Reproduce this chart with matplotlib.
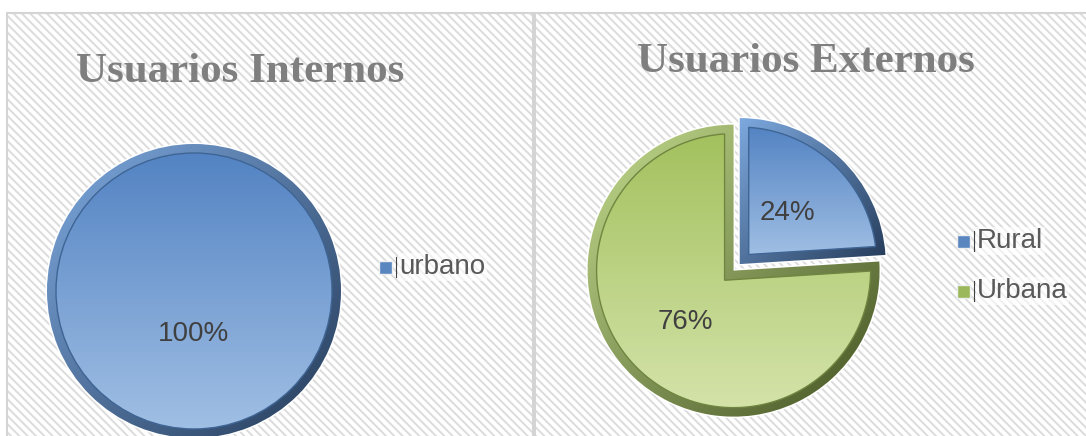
import numpy as np
import matplotlib
matplotlib.use("Agg")
import matplotlib.pyplot as plt
from matplotlib.patches import Rectangle, Polygon, Circle
from matplotlib.colors import LinearSegmentedColormap

# data
interno_labels = ['urbano']
interno_vals = [100]
externo_labels = ['Rural', 'Urbana']
externo_vals = [24, 76]

plt.rcParams['hatch.linewidth'] = 1.4

W, H = 1086, 436
fig = plt.figure(figsize=(W / 100, H / 100), dpi=100)
ax = fig.add_axes([0, 0, 1, 1])

# hatched panels (pixel coords, y up)
for x0, w in [(7, 526), (535, 560)]:
    ax.add_patch(Rectangle((x0, -10), w, 433, facecolor='white', edgecolor='#dcdcdc',
                           hatch='\\\\\\\\', lw=0, zorder=0))
    ax.add_patch(Rectangle((x0, -10), w, 433, fill=False, edgecolor='#d4d4d4', lw=1.5, zorder=0.5))


def grad_fill(patch, c_top, c_bot, z, diag=False):
    cmap = LinearSegmentedColormap.from_list('g', [c_top, c_bot])
    bb = patch.get_path().get_extents(patch.get_patch_transform())
    if diag:
        yy, xx = np.mgrid[0:1:100j, 0:1:100j]
        g = (xx + yy) / 2
    else:
        g = np.linspace(0, 1, 100)[:, None] * np.ones((1, 2))
    im = ax.imshow(g, extent=[bb.x0 - 2, bb.x1 + 2, bb.y0 - 2, bb.y1 + 2], origin='upper',
                   cmap=cmap, aspect='auto', zorder=z, interpolation='bilinear')
    im.set_clip_path(patch)


def inset_face(w, d):
    cx, cy = w.center
    R = w.r - d
    span = w.theta2 - w.theta1
    if span >= 359.9:
        return Circle((cx, cy), R)
    half = np.radians(span / 2)
    mid = np.radians(w.theta1 + span / 2)
    s = d / np.sin(half)
    apex = (cx + s * np.cos(mid), cy + s * np.sin(mid))
    a = np.degrees(np.arcsin(d / R))
    t = np.radians(np.linspace(w.theta1 + a, w.theta2 - a, 200))
    pts = [apex] + list(zip(cx + R * np.cos(t), cy + R * np.sin(t)))
    return Polygon(pts, closed=True)


def bevel_pie(vals, center, r, explode, ring_cols, fill_cols, pctdist, d=9):
    outer, _, pcts = ax.pie(vals, center=center, radius=r, startangle=90, counterclock=False,
                            explode=explode, autopct='%1.0f%%', pctdistance=pctdist,
                            wedgeprops=dict(edgecolor='white', lw=2.2, zorder=1),
                            textprops=dict(fontsize=20, color='#404040', family='Liberation Sans',
                                           zorder=10), frame=True)
    for w, rc, fc in zip(outer, ring_cols, fill_cols):
        grad_fill(w, rc[0], rc[1], 2, diag=True)
        face = inset_face(w, d)
        face.set(facecolor='none', edgecolor=fc[2], lw=1.0, zorder=5)
        ax.add_patch(face)
        grad_fill(face, fc[0], fc[1], 4)
    return pcts


blue_ring = ('#7eaae0', '#243a58')
blue_fill = ('#5383c3', '#a0bfe4', '#3f6594')
green_ring = ('#c4dc8e', '#435222')
green_fill = ('#a3c15e', '#d4e3a9', '#6f8540')

bevel_pie(interno_vals, (194, 145), 147, [0], [blue_ring], [blue_fill], 0.29)
bevel_pie(externo_vals, (737, 169), 146, [4, 5], [blue_ring, green_ring],
          [blue_fill, green_fill], 0.48)

# titles
ax.text(240, H - 72, 'Usuarios Internos', ha='center', va='center', fontsize=31,
        fontweight='bold', family='Liberation Serif', color='#7f7f7f', zorder=10)
ax.text(806, H - 62, 'Usuarios Externos', ha='center', va='center', fontsize=31,
        fontweight='bold', family='Liberation Serif', color='#7f7f7f', zorder=10)


# legends
def legend(labels, cols, x, ys):
    for lab, c, y in zip(labels, cols, ys):
        ax.add_patch(Rectangle((x, H - y - 7), 13, 13, facecolor=c, edgecolor='#eeeeee',
                               lw=1.0, zorder=10))
        ax.plot([x + 17, x + 17], [H - y - 10, H - y + 10], color='#404040', lw=0.8, zorder=10)
        ax.text(x + 20, H - y, lab, ha='left', va='center', fontsize=20, color='#595959',
                family='Liberation Sans', zorder=10,
                bbox=dict(facecolor='white', edgecolor='none', alpha=0.6, pad=1))


legend(interno_labels, ['#5a86c0'], 379, [267])
legend(externo_labels, ['#5a86c0', '#9bb95a'], 957, [241, 291])

ax.set_xlim(0, W)
ax.set_ylim(0, H)
ax.set_aspect('equal')
ax.axis('off')

fig.savefig('out.png', dpi=100, facecolor='white')
